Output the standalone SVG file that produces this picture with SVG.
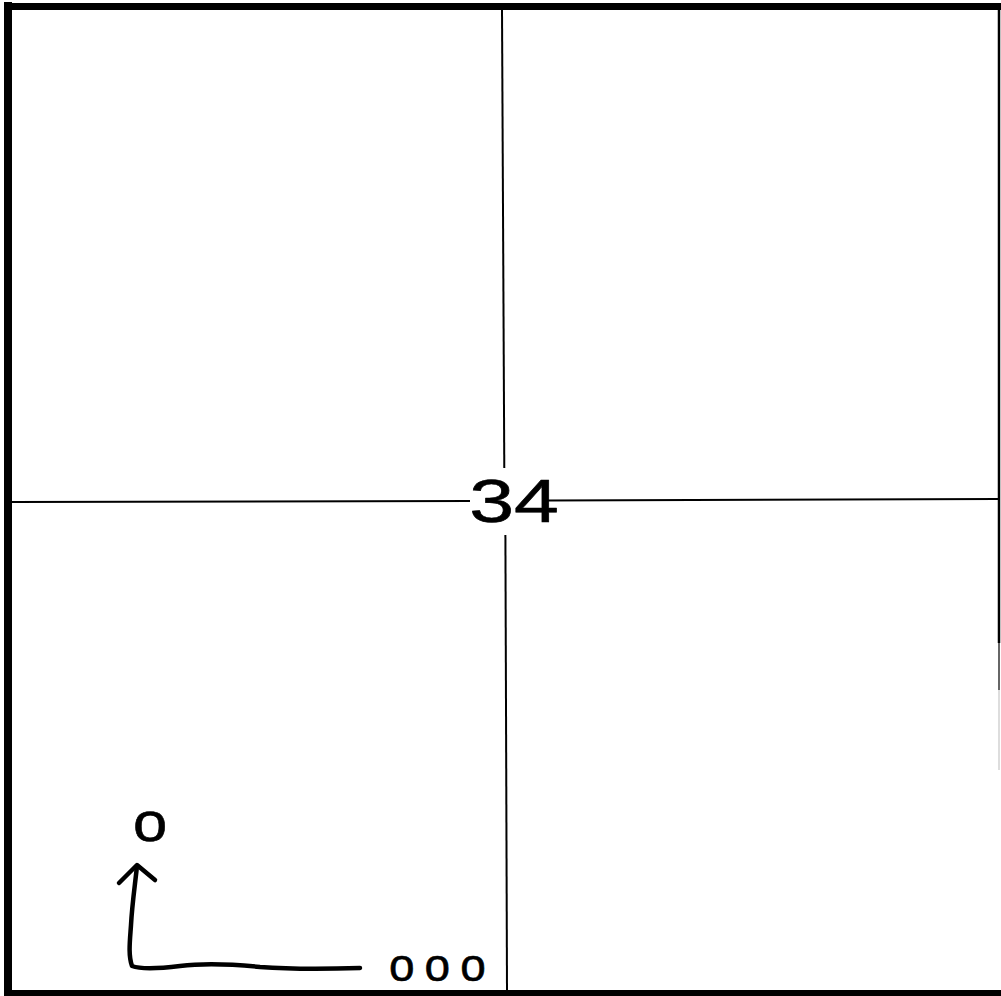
<svg xmlns="http://www.w3.org/2000/svg" width="1001" height="996" viewBox="0 0 1001 996">
<defs>
<style>
.frame{stroke:#000;fill:none;stroke-linecap:square}
.axis{stroke:#000;stroke-width:2;fill:none}
.ink{stroke:#000;stroke-width:4.5;fill:none;stroke-linecap:round;stroke-linejoin:round}
.hand{font-family:"Liberation Sans",Arial,sans-serif;fill:#000;stroke:#000;stroke-linejoin:round}
</style>
</defs>
<rect width="1001" height="996" fill="#fff"/>
<g id="frame">
<line class="frame" x1="8" y1="6.5" x2="1001" y2="6.5" stroke-width="7"/>
<line class="frame" x1="8" y1="6" x2="8" y2="992" stroke-width="8"/>
<line class="frame" x1="8" y1="993" x2="1001" y2="993" stroke-width="6"/>
<line x1="999" y1="8" x2="999" y2="643" stroke="#000" stroke-width="2.5"/>
<line x1="999" y1="643" x2="999" y2="690" stroke="#666" stroke-width="2"/>
<line x1="999" y1="690" x2="999" y2="770" stroke="#ddd" stroke-width="2"/>
</g>
<g id="axes">
<line class="axis" x1="502" y1="10" x2="504.3" y2="468"/>
<line class="axis" x1="505.4" y1="535" x2="507" y2="990"/>
<line class="axis" x1="12" y1="502" x2="470" y2="501"/>
<line class="axis" x1="548" y1="500.5" x2="998" y2="499"/>
</g>
<g id="label-34">
<text class="hand" transform="translate(514,522) scale(1.3,1)" font-size="62" stroke-width="0.6" text-anchor="middle">34</text>
</g>
<g id="node-top-o">
<text class="hand" transform="translate(133,841) scale(1.1,1)" font-size="56" stroke-width="0.6">o</text>
</g>
<g id="node-ooo">
<text class="hand" x="389" y="981" font-size="46" stroke-width="0.6" letter-spacing="10">ooo</text>
</g>
<g id="connectors">
<path class="ink" d="M360 968 C330 969 300 970 260 967 C230 964 205 963 180 966 C155 969 140 969 132 966 C128 955 130 940 131 925 C132 905 135 885 137 866"/>
<path class="ink" d="M119 883 L137 865 L155 880"/>
</g>
</svg>
